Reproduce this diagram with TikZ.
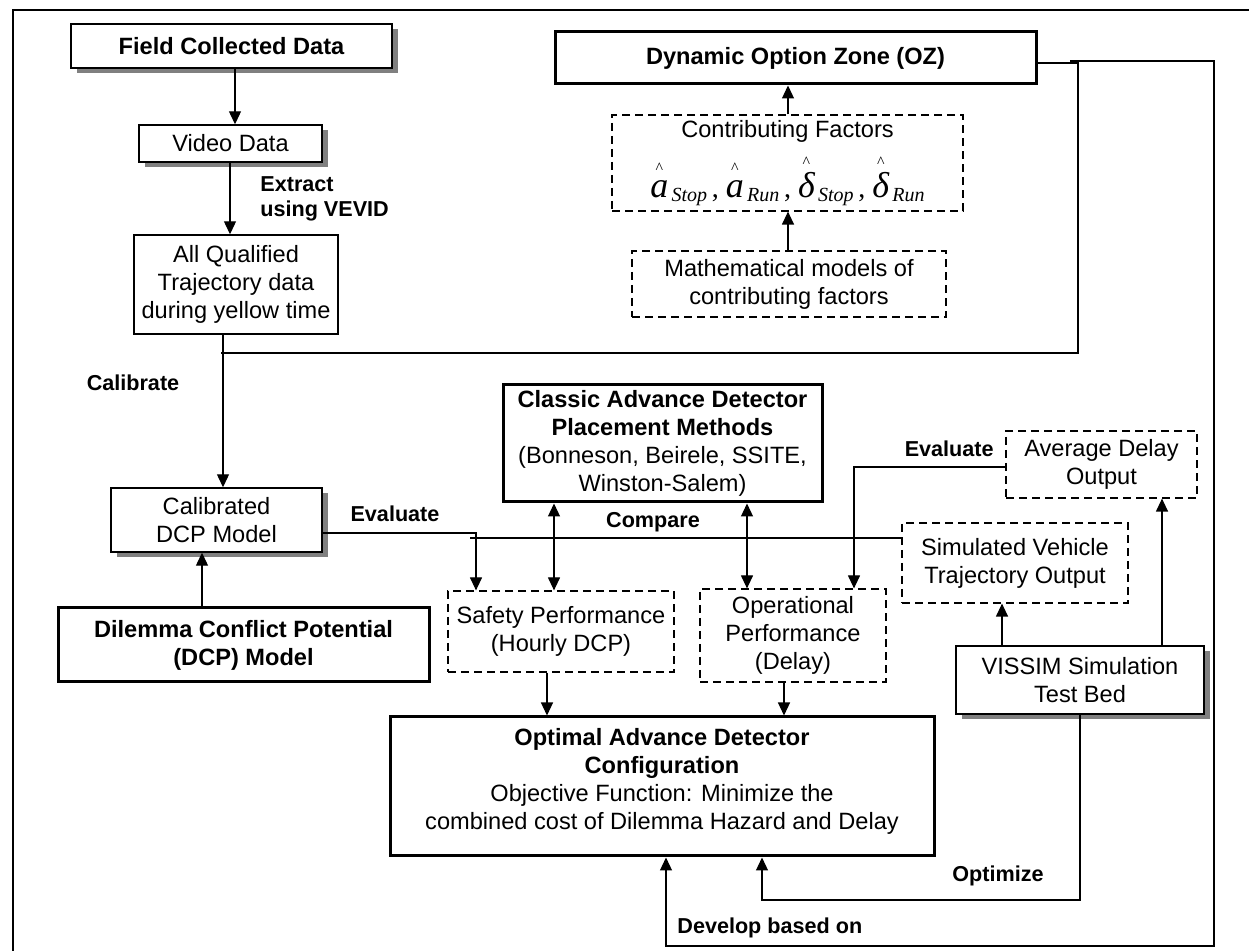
\documentclass[tikz,border=0pt]{standalone}
\usepackage{amsmath}
\usepackage{fontspec}
\setmainfont{Liberation Sans}
\newfontfamily\timesfont{Liberation Serif}
\usepackage{tikz}
\usetikzlibrary{arrows.meta,positioning,calc,shadows}
\definecolor{shadowgray}{RGB}{128,128,128}
\tikzset{
  arr/.style={-{Triangle[length=6.5pt,width=6pt]},line width=0.6pt},
  dblarr/.style={{Triangle[length=6.5pt,width=6pt]}-{Triangle[length=6.5pt,width=6pt]},line width=0.6pt},
  link/.style={line width=0.6pt}
}
\newcommand{\hatvar}[2]{%
  \begin{tabular}[b]{@{}c@{}}{\timesfont\fontsize{8}{8}\selectfont\textasciicircum}\\[-2pt]%
  {\timesfont\itshape\fontsize{18}{18}\selectfont #1}\end{tabular}%
  \raisebox{-2pt}{\timesfont\itshape\fontsize{10}{10}\selectfont\,#2}}
\newcommand{\factorsep}{{\timesfont\fontsize{14}{14}\selectfont\,,\ }}

\begin{document}
\begin{tikzpicture}[
  x=0.5pt,y=-0.5pt,
  box/.style={draw,fill=white,line width=0.7pt,align=center,inner sep=0pt,
    font=\fontsize{11.8}{14}\selectfont},
  heavybox/.style={box,line width=1.5pt},
  dashbox/.style={box,line width=0.6pt,dash pattern=on 4pt off 2.5pt},
  shadowbox/.style={box,general shadow={fill=shadowgray,shadow xshift=2.75pt,shadow yshift=-2.75pt}},
  steplabel/.style={font=\bfseries\fontsize{10.8}{12.5}\selectfont,inner sep=0pt}
]
\useasboundingbox (0,0) rectangle (1249,951);
\draw[line width=0.75pt] (1249,10) -- (13,10) -- (13,951);

\node[shadowbox,line width=1.1pt,font=\bfseries\fontsize{11.8}{14}\selectfont,
  minimum width=160.5pt,minimum height=22pt] (fcd) at (231.5,46) {Field Collected Data};
\node[shadowbox,minimum width=91.5pt,minimum height=18.5pt] (video) at (230.5,143.5) {Video Data};
\node[box,minimum width=102pt,minimum height=49.5pt] (allq) at (236,284.5)
  {All Qualified\\Trajectory data\\during yellow time};
\node[shadowbox,minimum width=105.5pt,minimum height=32pt] (calib) at (216.5,520)
  {Calibrated\\DCP Model};
\node[heavybox,font=\bfseries\fontsize{11.8}{14}\selectfont,
  minimum width=185.5pt,minimum height=37pt] (dcp) at (243.5,645)
  {Dilemma Conflict Potential\\(DCP) Model};

\node[heavybox,font=\bfseries\fontsize{11.8}{14}\selectfont,
  minimum width=240.5pt,minimum height=26pt] (oz) at (795.5,58) {Dynamic Option Zone (OZ)};
\node[dashbox,minimum width=175.5pt,minimum height=48pt] (contrib) at (787.5,163)
  {Contributing Factors\\[2pt]
   \hatvar{a}{Stop}\factorsep\hatvar{a}{Run}\factorsep\hatvar{δ}{Stop}\factorsep\hatvar{δ}{Run}};
\node[dashbox,minimum width=157pt,minimum height=33pt] (mathm) at (789,284)
  {Mathematical models of\\contributing factors};

\node[heavybox,minimum width=159.5pt,minimum height=58.5pt] (classic) at (662.5,443.5)
  {\textbf{Classic Advance Detector}\\\textbf{Placement Methods}\\(Bonneson, Beirele, SSITE,\\Winston-Salem)};
\node[dashbox,minimum width=95.5pt,minimum height=33.5pt] (avgd) at (1101.5,464.5)
  {Average Delay\\Output};
\node[dashbox,minimum width=113pt,minimum height=40pt] (simv) at (1015,563)
  {Simulated Vehicle\\Trajectory Output};
\node[dashbox,minimum width=113pt,minimum height=40.5pt] (safety) at (561,631.5)
  {Safety Performance\\(Hourly DCP)};
\node[dashbox,minimum width=93pt,minimum height=46.5pt] (oper) at (793,635.5)
  {Operational\\Performance\\(Delay)};
\node[shadowbox,minimum width=124pt,minimum height=34pt] (vissim) at (1080,680)
  {VISSIM Simulation\\Test Bed};
\node[heavybox,minimum width=272pt,minimum height=69.5pt] (optimal) at (662,786.5)
  {\textbf{Optimal Advance Detector}\\\textbf{Configuration}\\Objective Function: Minimize the\\
   combined cost of Dilemma Hazard and Delay\\[-6pt]\mbox{}};

\node[steplabel,anchor=west,align=left] (extract) at (260,199) {Extract\\using VEVID};
\node[steplabel] (calibrate) at (133,383) {Calibrate};
\node[steplabel] (evalleft) at (395,514) {Evaluate};
\node[steplabel] (compare) at (653,522) {Compare};
\node[steplabel,anchor=east] (evalright) at (994,449) {Evaluate};
\node[steplabel] (optimize) at (998,876) {Optimize};
\node[steplabel,anchor=west] (develop) at (677,928) {Develop based on};

\coordinate (ozturn) at (1078,353);
\coordinate (ozend) at (221,353);
\coordinate (devstart) at (1070,61);
\coordinate (devturn) at (1214,946);
\coordinate (evalturn) at (476,533);
\coordinate (cmpend) at (470,538);
\coordinate (delayturn) at (854,467);
\coordinate (optturn) at (762,900);

\foreach \src/\dst/\xc in {fcd/video/235,video/allq/230,allq/calib/223,safety/optimal/547,oper/optimal/784}{
  \draw[arr] (\src.south -| \xc,0) -- (\dst.north -| \xc,0);
}
\foreach \src/\dst/\xc in {dcp/calib/202,mathm/contrib/788,contrib/oz/788,vissim/simv/1002,vissim/avgd/1162}{
  \draw[arr] (\src.north -| \xc,0) -- (\dst.south -| \xc,0);
}
\foreach \dst/\xc in {safety/554,oper/747}{
  \draw[dblarr] (classic.south -| \xc,0) -- (\dst.north -| \xc,0);
}

\draw[link] ([yshift=-2.5pt]oz.east) -| (ozturn) -- (ozend);
\draw[arr] (devstart) -| (devturn) -| (optimal.south -| 666,0);
\draw[arr] (calib.east |- evalturn) -| (safety.north -| evalturn);
\draw[link] (simv.west |- cmpend) -- (cmpend);
\draw[arr] (avgd.west |- delayturn) -| (oper.north -| delayturn);
\draw[arr] (vissim.south) |- (optturn) -- (optimal.south -| optturn);

\end{tikzpicture}
\end{document}
